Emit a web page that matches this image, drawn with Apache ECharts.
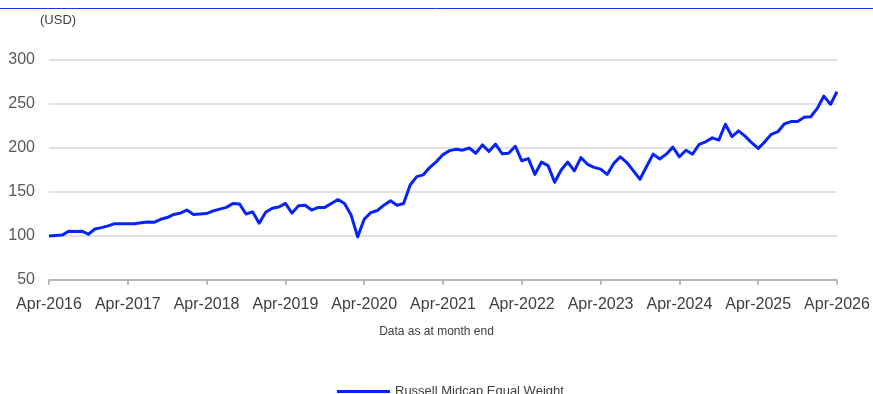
<!DOCTYPE html>
<html>
<head>
<meta charset="utf-8">
<script src="https://cdn.jsdelivr.net/npm/echarts@6/dist/echarts.min.js"></script>
<style>
  html, body { margin: 0; padding: 0; background: #fff; }
  #chart { width: 873px; height: 394px; }
</style>
</head>
<body>
<div id="chart"></div>
<script>
// Monthly index level, Apr-2016 = 100, through Apr-2026
const seriesName = 'Russell Midcap Equal Weight';
const indexValues = [
  100, 100.5, 101, 105.5, 105, 105.5, 102, 108, 109.5, 111.5, 114, 114,
  114, 114, 115, 116, 115.5, 119, 121, 124.5, 126, 129.5, 124.5, 125,
  125.5, 128.5, 130.5, 132.5, 137, 136.5, 125, 127.5, 114.5, 127, 131.5, 133,
  137, 126, 134.5, 135, 129.5, 132.5, 132.5, 137, 141.5, 137, 124, 99,
  119, 126.5, 129, 135, 140, 135, 137, 158, 167.5, 169.5, 178, 184.5,
  192.5, 197, 198.5, 197.5, 200, 194, 203.5, 196, 204.5, 193.5, 194, 202,
  185.5, 188, 170, 184, 180, 161, 175, 184, 174, 189, 181.5, 178,
  176, 170, 182.5, 190, 183.5, 174, 164.5, 179, 193, 187.5, 193, 201,
  190, 197.5, 193, 204, 207, 211.5, 209, 227, 213, 219.5, 213.5, 206,
  199.5, 207, 215.5, 218.5, 227.5, 230, 230, 235, 235.5, 245, 259, 249.5,
  264
];
const monthNames = ['Jan','Feb','Mar','Apr','May','Jun','Jul','Aug','Sep','Oct','Nov','Dec'];
const startYear = 2016;
const startMonth = 3; // April
const yTicks = [50, 100, 150, 200, 250, 300];
const yUnit = '(USD)';
const footnote = 'Data as at month end';

// Month labels for the category axis, e.g. "Apr-2016"
const months = indexValues.map((_, i) => {
  const m = (startMonth + i) % 12;
  const y = startYear + Math.floor((startMonth + i) / 12);
  return monthNames[m] + '-' + y;
});

const chart = echarts.init(document.getElementById('chart'), null, { renderer: 'canvas' });
const font = '"Liberation Sans", Arial, sans-serif';
const lineColor = '#0624f5';

chart.setOption({
  animation: false,
  backgroundColor: '#ffffff',
  textStyle: { fontFamily: font },
  grid: { left: 49, right: 36, top: 60, bottom: 114, containLabel: false },
  graphic: [
    { type: 'line', shape: { x1: 0, y1: 8.5, x2: 873, y2: 8.5 },
      style: { stroke: '#1a35e8', lineWidth: 1 } },
    { type: 'text', left: 40, top: 14,
      style: { text: yUnit, font: '13px ' + font, fill: '#404040' } },
    { type: 'text', left: 'center', top: 326,
      style: { text: footnote, font: '12px ' + font, fill: '#404040' } }
  ],
  legend: {
    data: [{ name: seriesName, icon: 'rect' }],
    left: 332, top: 380,
    itemWidth: 53, itemHeight: 3, itemGap: 10,
    itemStyle: { color: lineColor, borderWidth: 0 },
    lineStyle: { color: lineColor, width: 3 },
    textStyle: { fontSize: 13, color: '#404040', fontFamily: font }
  },
  xAxis: {
    type: 'category',
    data: months,
    boundaryGap: false,
    axisLine: { lineStyle: { color: '#a6a6a6', width: 1.5 } },
    axisTick: { show: true, interval: 11, length: 5, lineStyle: { color: '#a6a6a6', width: 1.5 } },
    axisLabel: { interval: 11, fontSize: 16, color: '#404040', margin: 17, fontFamily: font },
    splitLine: { show: false }
  },
  yAxis: {
    type: 'value',
    min: yTicks[0], max: yTicks[yTicks.length - 1], interval: 50,
    axisLine: { show: false },
    axisTick: { show: false },
    axisLabel: { fontSize: 16, color: '#595959', margin: 14, fontFamily: font },
    splitLine: { lineStyle: { color: '#d9d9d9', width: 1.5 } }
  },
  series: [{
    name: seriesName,
    type: 'line',
    data: indexValues,
    showSymbol: false,
    symbol: 'none',
    lineStyle: { color: lineColor, width: 3, join: 'round' },
    itemStyle: { color: lineColor }
  }]
});
</script>
</body>
</html>
